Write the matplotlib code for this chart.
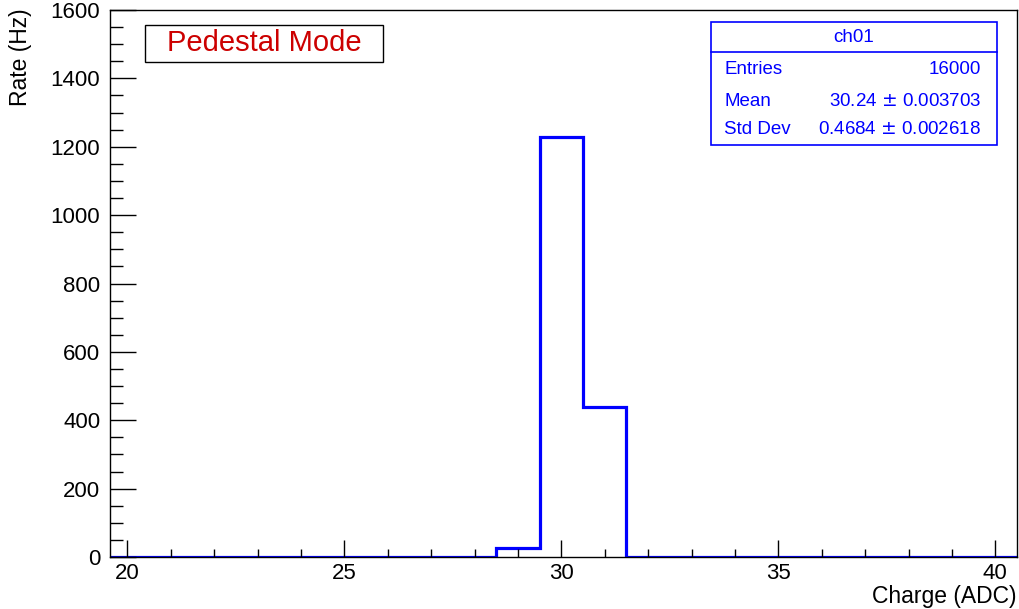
import numpy as np
import matplotlib
matplotlib.use("Agg")
import matplotlib.pyplot as plt
from matplotlib.ticker import MultipleLocator

plt.rcParams["font.family"] = ["Liberation Sans", "DejaVu Sans"]

# histogram data (bin centres in ADC, rate in Hz)
bin_centers = list(range(20, 41))
rates = [0, 0, 0, 0, 0, 0, 0, 0, 0, 26, 1228, 438, 1, 0, 0, 0, 0, 0, 0, 0, 0]
stats_labels = ["Entries", "Mean", "Std Dev"]
stats_values = ["16000", "30.24 $\\pm$ 0.003703", "0.4684 $\\pm$ 0.002618"]

BLUE = "#0000ff"
W, H = 1019, 609

fig = plt.figure(figsize=(10.19, 6.09), dpi=100)
ax = fig.add_axes([110 / W, 1 - 557 / H, 907 / W, 547 / H])

edges = np.array(bin_centers + [bin_centers[-1] + 1]) - 0.5
ax.stairs(rates, edges, color=BLUE, linewidth=2.3, baseline=None)

ax.set_xlim(19.6, 40.5)
ax.set_ylim(0, 1600)
ax.xaxis.set_major_locator(MultipleLocator(5))
ax.xaxis.set_minor_locator(MultipleLocator(1))
ax.yaxis.set_major_locator(MultipleLocator(200))
ax.yaxis.set_minor_locator(MultipleLocator(50))
ax.tick_params(which="both", direction="in", top=False, right=False, labelsize=16, width=1)
ax.tick_params(axis="x", which="major", length=12, pad=4)
ax.tick_params(axis="x", which="minor", length=6)
ax.tick_params(axis="y", which="major", length=19, pad=7)
ax.tick_params(axis="y", which="minor", length=9.5)
for s in ax.spines.values():
    s.set_linewidth(1)

ax.set_xlabel("Charge (ADC)", fontsize=16.5, loc="right", labelpad=1)
ax.set_ylabel("Rate (Hz)", fontsize=16.5, loc="top")
ax.yaxis.set_label_coords(-0.086, 1.003)

# title-like box
fig.patches.append(plt.Rectangle((145 / W, 1 - 62 / H), 238 / W, 37 / H, transform=fig.transFigure,
                                 facecolor="white", edgecolor="black", linewidth=1))
fig.text(264 / W, 1 - 43 / H, "Pedestal Mode", color="#cc0000", fontsize=21,
         ha="center", va="center")

# stats box
x0, x1, y0, y1 = 711 / W, 997 / W, 1 - 145 / H, 1 - 22 / H
ydiv = 1 - 52 / H
fig.patches.append(plt.Rectangle((x0, y0), x1 - x0, y1 - y0, transform=fig.transFigure,
                                 facecolor="white", edgecolor=BLUE, linewidth=1.2))
fig.lines.append(plt.Line2D([x0, x1], [ydiv, ydiv], transform=fig.transFigure,
                            color=BLUE, linewidth=1.2))
fig.text((x0 + x1) / 2, (y1 + ydiv) / 2, "ch01", color=BLUE, fontsize=13.5, ha="center", va="center")
row_y = [69, 101, 130]
for lab, val, ry in zip(stats_labels, stats_values, row_y):
    fig.text(724 / W, 1 - ry / H, lab, color=BLUE, fontsize=13.5, ha="left", va="center")
    fig.text(981 / W, 1 - ry / H, val, color=BLUE, fontsize=13.5, ha="right", va="center")

fig.savefig("out.png", dpi=100)
